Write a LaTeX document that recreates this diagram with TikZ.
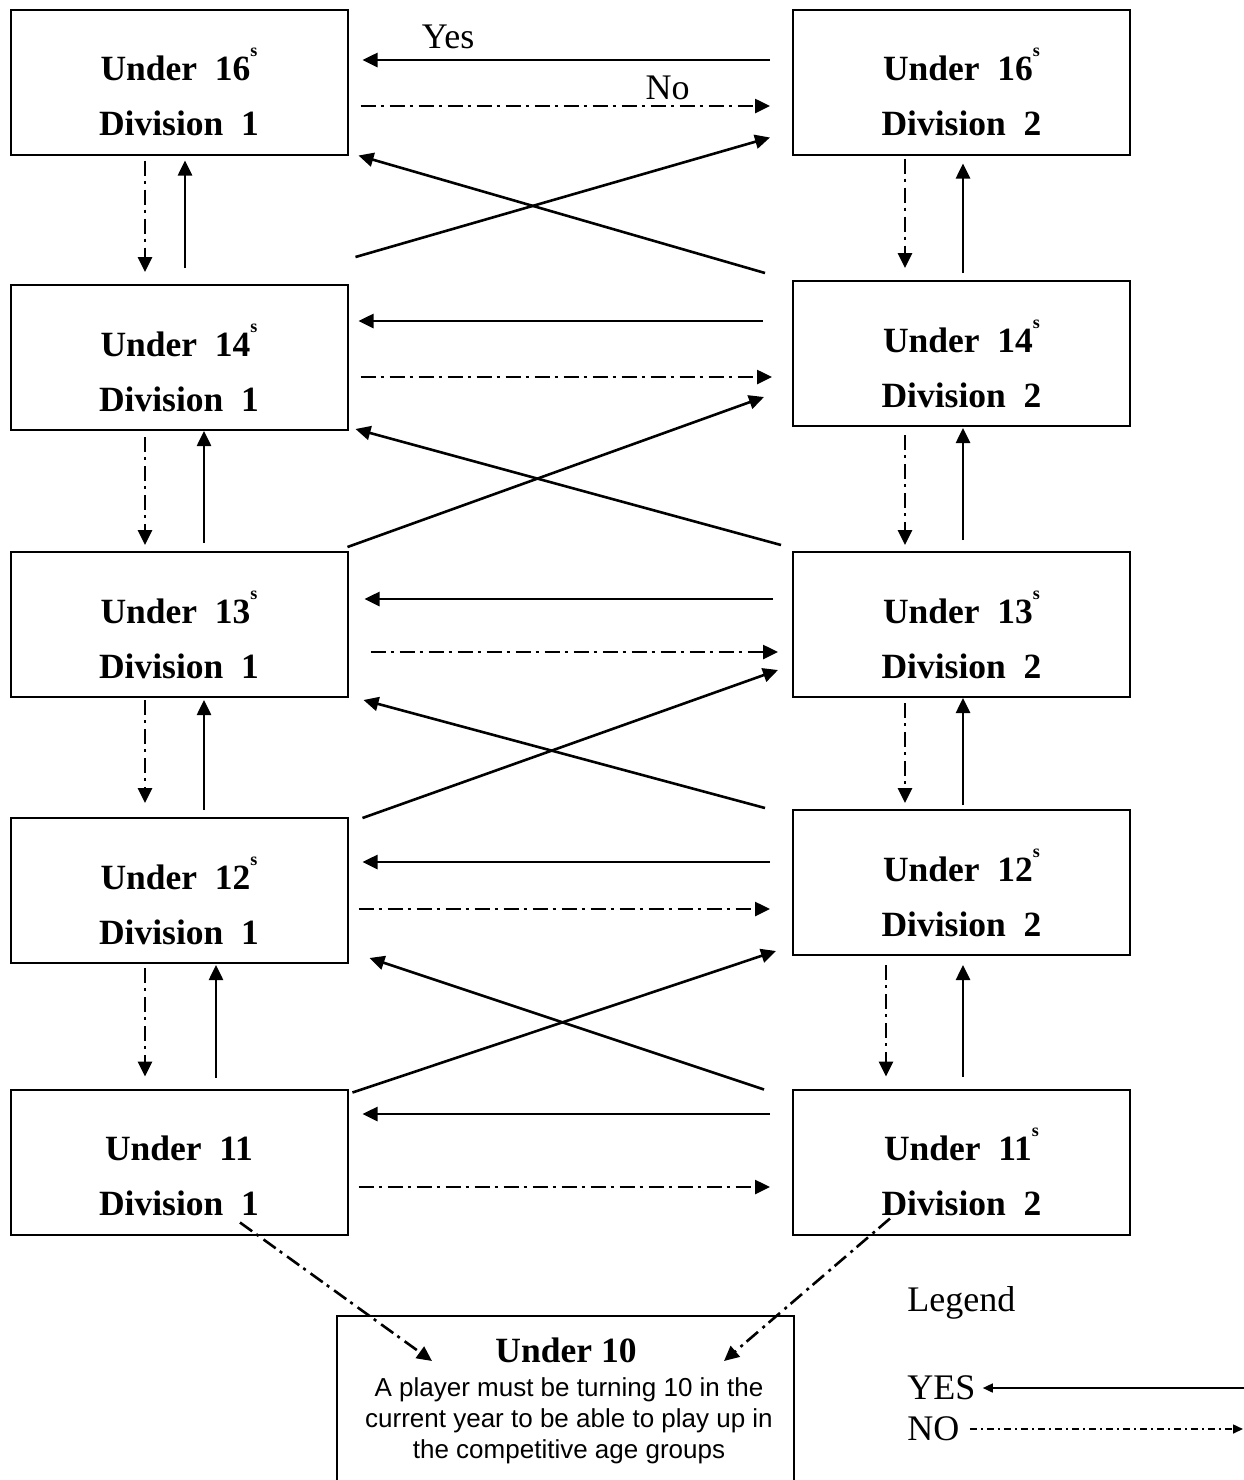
\documentclass[tikz,border=0pt]{standalone}
\usepackage{fontspec}
\setmainfont{Liberation Serif}
\newfontfamily\arialfont{Liberation Sans}
\usepackage{tikz}
\usetikzlibrary{arrows.meta,calc,positioning}
\newcommand\supS{\smash{\raisebox{12pt}{\fontsize{9}{9}\selectfont s}}}

\begin{document}
\begin{tikzpicture}[x=0.5pt,y=-0.5pt,
  agebox/.style={draw,line width=1pt,minimum width=168.5pt,minimum height=72.5pt,inner sep=0pt,outer sep=0pt},
  boxtext/.style={align=center,inner sep=0pt,font=\fontsize{17.75}{27.5}\selectfont\bfseries},
  bodytext/.style={align=center,inner sep=0pt,font=\arialfont\fontsize{13}{15.5}\selectfont},
  plain/.style={inner sep=0pt,font=\fontsize{18}{20}\selectfont},
  yesline/.style={line width=1.3pt,-{Triangle[length=7.5pt,width=7pt]}},
  noline/.style={line width=1.3pt,dash pattern=on 7.5pt off 2.5pt on 1.5pt off 3pt,-{Triangle[length=7.5pt,width=7pt]}},
  yeskey/.style={line width=0.8pt,-{Triangle[length=5pt,width=4.5pt]}},
  nokey/.style={line width=0.8pt,dash pattern=on 3.5pt off 2pt on 1pt off 2pt,-{Triangle[length=5pt,width=4.5pt]}}]
\useasboundingbox (0,0) rectangle (1244,1480);

\node[agebox] (u16a) at (179,82) {};
\node[boxtext] (u16a-t) at ($(u16a)+(0,14)$) {Under\ \ 16\supS\\Division\ \ 1};
\node[agebox] (u14a) at (179,357.5) {};
\node[boxtext] (u14a-t) at ($(u14a)+(0,14)$) {Under\ \ 14\supS\\Division\ \ 1};
\node[agebox] (u13a) at (179,624.5) {};
\node[boxtext] (u13a-t) at ($(u13a)+(0,14)$) {Under\ \ 13\supS\\Division\ \ 1};
\node[agebox] (u12a) at (179,890.5) {};
\node[boxtext] (u12a-t) at ($(u12a)+(0,14)$) {Under\ \ 12\supS\\Division\ \ 1};
\node[agebox] (u11a) at (179,1162) {};
\node[boxtext] (u11a-t) at ($(u11a)+(0,14)$) {Under\ \ 11\\Division\ \ 1};

\node[agebox] (u16b) at (961.5,82) {};
\node[boxtext] (u16b-t) at ($(u16b)+(0,14)$) {Under\ \ 16\supS\\Division\ \ 2};
\node[agebox] (u14b) at (961.5,353.5) {};
\node[boxtext] (u14b-t) at ($(u14b)+(0,14)$) {Under\ \ 14\supS\\Division\ \ 2};
\node[agebox] (u13b) at (961.5,624.5) {};
\node[boxtext] (u13b-t) at ($(u13b)+(0,14)$) {Under\ \ 13\supS\\Division\ \ 2};
\node[agebox] (u12b) at (961.5,882.5) {};
\node[boxtext] (u12b-t) at ($(u12b)+(0,14)$) {Under\ \ 12\supS\\Division\ \ 2};
\node[agebox] (u11b) at (961.5,1162) {};
\node[boxtext] (u11b-t) at ($(u11b)+(0,14)$) {Under\ \ 11\supS\\Division\ \ 2};

\node[draw,line width=1pt,minimum width=228.5pt,minimum height=100pt,inner sep=0pt] (u10) at (565.5,1416) {};
\node[boxtext] (u10-t) at (566,1350) {Under 10};
\node[bodytext] (u10-b) at (569,1421) {A player must be turning 10 in the\\current year to be able to play up in\\the competitive age groups};

\draw[yesline] ($(u16b.west)+(-23,-22)$) -- node[plain,pos=0.79,yshift=11.5pt] (yes) {Yes} ($(u16a.east)+(15,-22)$);
\draw[noline] ($(u16a.east)+(13,24)$) -- node[plain,pos=0.75,yshift=9pt] (no) {No} ($(u16b.west)+(-23,24)$);
\draw[noline] ($(u16a.south)+(-34,6)$) -- ($(u14a.north)+(-34,-13)$);
\draw[yesline] ($(u14a.north)+(6,-17)$) -- ($(u16a.south)+(6,6)$);
\draw[noline] ($(u16b.south)+(-56.5,4)$) -- ($(u14b.north)+(-56.5,-13)$);
\draw[yesline] ($(u14b.north)+(1.5,-8)$) -- ($(u16b.south)+(1.5,9)$);
\draw[yesline] ($(u14a.north east)+(8,-28)$) -- ($(u16b.south west)+(-23,-17)$);
\draw[yesline] ($(u14b.north west)+(-28,-8)$) -- ($(u16a.south east)+(11,1)$);

\draw[yesline] ($(u14b.west)+(-30,-32.5)$) -- ($(u14a.east)+(11,-36.5)$);
\draw[noline] ($(u14a.east)+(13,19.5)$) -- ($(u14b.west)+(-21,23.5)$);
\draw[noline] ($(u14a.south)+(-34,7)$) -- ($(u13a.north)+(-34,-7)$);
\draw[yesline] ($(u13a.north)+(25,-9)$) -- ($(u14a.south)+(25,1)$);
\draw[noline] ($(u14b.south)+(-56.5,9)$) -- ($(u13b.north)+(-56.5,-7)$);
\draw[yesline] ($(u13b.north)+(1.5,-12)$) -- ($(u14b.south)+(1.5,2)$);
\draw[yesline] ($(u13a.north east)+(0,-5)$) -- ($(u14b.south west)+(-29,-29)$);
\draw[yesline] ($(u13b.north west)+(-12,-7)$) -- ($(u14a.south east)+(8,-1)$);

\draw[yesline] ($(u13b.west)+(-20,-25.5)$) -- ($(u13a.east)+(17,-25.5)$);
\draw[noline] ($(u13a.east)+(23,27.5)$) -- ($(u13b.west)+(-15,27.5)$);
\draw[noline] ($(u13a.south)+(-34,3)$) -- ($(u12a.north)+(-34,-15)$);
\draw[yesline] ($(u12a.north)+(25,-8)$) -- ($(u13a.south)+(25,3)$);
\draw[noline] ($(u13b.south)+(-56.5,6)$) -- ($(u12b.north)+(-56.5,-7)$);
\draw[yesline] ($(u12b.north)+(1.5,-5)$) -- ($(u13b.south)+(1.5,1)$);
\draw[yesline] ($(u12a.north east)+(15,0)$) -- ($(u13b.south west)+(-15,-27)$);
\draw[yesline] ($(u12b.north west)+(-28,-2)$) -- ($(u13a.south east)+(16,3)$);

\draw[yesline] ($(u12b.west)+(-23,-20.5)$) -- ($(u12a.east)+(15,-28.5)$);
\draw[noline] ($(u12a.east)+(11,18.5)$) -- ($(u12b.west)+(-23,26.5)$);
\draw[noline] ($(u12a.south)+(-34,5)$) -- ($(u11a.north)+(-34,-13)$);
\draw[yesline] ($(u11a.north)+(37,-12)$) -- ($(u12a.south)+(37,2)$);
\draw[noline] ($(u12b.south)+(-75.5,10)$) -- ($(u11b.north)+(-75.5,-13)$);
\draw[yesline] ($(u11b.north)+(1.5,-13)$) -- ($(u12b.south)+(1.5,10)$);
\draw[yesline] ($(u11a.north east)+(5,3)$) -- ($(u12b.south west)+(-17,-4)$);
\draw[yesline] ($(u11b.north west)+(-29,0)$) -- ($(u12a.south east)+(22,-5)$);

\draw[yesline] ($(u11b.west)+(-23,-48)$) -- ($(u11a.east)+(15,-48)$);
\draw[noline] ($(u11a.east)+(11,25)$) -- ($(u11b.west)+(-23,25)$);
\draw[noline] ($(u11a.south)+(61,-12)$) -- ($(u10.north)+(-133.5,46)$);
\draw[noline] ($(u11b.south)+(-71.5,-16)$) -- ($(u10.north)+(158.5,46)$);

\node[plain,anchor=west] (legend) at (907,1303) {Legend};
\node[plain,anchor=west] (yesleg) at (907,1388) {YES};
\node[plain,anchor=west] (noleg) at (907,1429) {NO};
\coordinate (yesend) at (1244,1388);
\coordinate (noend) at (1243,1429);
\draw[yeskey] (yesend) -- ($(yesleg.east)+(7,0)$);
\draw[nokey] ($(noleg.east)+(10,0)$) -- (noend);
\end{tikzpicture}
\end{document}
